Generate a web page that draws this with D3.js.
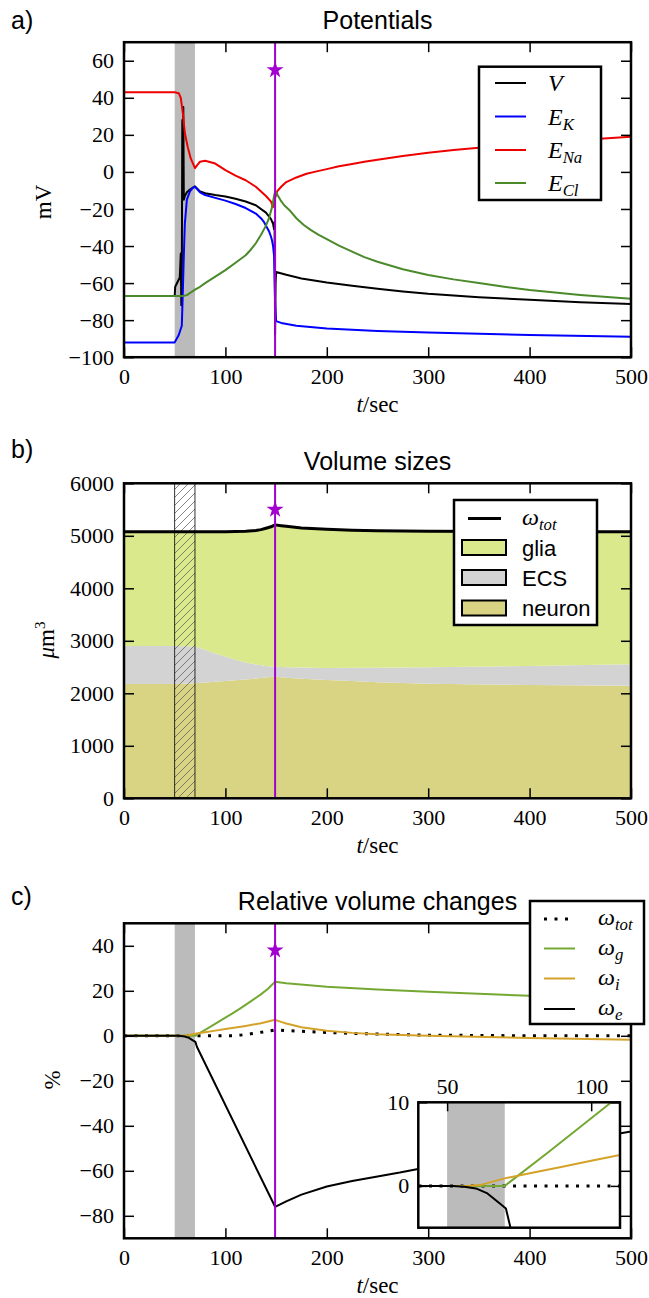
<!DOCTYPE html>
<html>
<head>
<meta charset="utf-8">
<script src="https://cdn.jsdelivr.net/npm/d3@7"></script>
<style>
  body { margin: 0; background: #fff; }
  svg { display: block; }
</style>
</head>
<body>
<script>
// ---- data ----
// a) potentials (mV)
const tV = [0, 50, 50.5, 55, 56, 56.5, 57, 57.5, 58, 58.5, 59, 60, 62, 65, 70, 75, 80, 90, 100, 110, 120, 130, 140, 145, 147, 148, 148.5, 149, 149.5, 150, 160, 175, 200, 225, 250, 275, 300, 350, 400, 450, 500];
const V = [-67, -67, -62, -57, -44, -72, -60, 28, -10, 35, -15, -13, -11, -9.5, -7.8, -10.5, -11.5, -12.5, -13.3, -14.5, -16, -18, -22, -25.5, -28, -31, -27, -88, -60, -54, -55.5, -57.5, -59.7, -61.5, -63, -64.5, -65.8, -67.6, -69, -70.3, -71.3];

const tEK = [0, 50, 54, 57, 58, 59, 60, 62, 65, 68, 70, 75, 80, 90, 100, 110, 120, 130, 135, 138, 141, 143, 145, 146, 147, 148, 149, 150, 155, 170, 200, 250, 300, 400, 500];
const EK = [-92, -92, -88, -83, -65, -45, -28, -15, -10.5, -8.5, -8, -11, -12.5, -14, -15.5, -17.3, -19.5, -22.5, -25, -27, -30, -32, -35, -37, -40, -45, -70, -80.5, -81.5, -83, -84.5, -85.8, -86.7, -88, -89];

const tENa = [0, 50, 54, 56, 58, 60, 63, 66, 70, 72, 75, 80, 90, 100, 110, 120, 130, 140, 145, 147, 149, 151, 155, 160, 170, 180, 190, 200, 212, 225, 237, 250, 275, 300, 325, 350, 375, 400, 450, 500];
const ENa = [43, 43, 42.5, 40, 32, 21, 13, 7, 2, 3.5, 5.5, 6, 4.5, 1, -2, -4.5, -8, -13, -16, -19, -14, -10.5, -8, -5.5, -3, -1, 0.3, 1.5, 3, 4.3, 5.5, 6.5, 8.6, 10.3, 11.8, 13, 14.2, 15.2, 17.2, 19];

const tECl = [0, 58, 62, 66, 70, 75, 80, 90, 100, 110, 120, 125, 130, 135, 140, 143, 146, 148, 149, 150, 152, 155, 158, 163, 170, 177, 184, 192, 200, 212, 225, 237, 250, 275, 300, 325, 350, 375, 400, 450, 500];
const ECl = [-67, -67, -66.5, -65, -63.5, -62, -60, -56.5, -53, -49, -45, -42, -38.5, -34, -29, -25, -19, -13, -10.5, -11, -13, -15.8, -18, -20.5, -25, -28.5, -31.3, -34, -36.3, -39.8, -43, -46, -48.5, -52.5, -55.6, -58, -60, -62, -63.7, -66.4, -68.5];

// b) volume sizes (um^3)
const tVol = [0, 50, 70, 80, 90, 100, 110, 120, 130, 135, 140, 145, 149, 155, 160, 175, 200, 225, 250, 300, 400, 500];
const volTotal = [5078, 5078, 5078, 5078, 5078, 5078, 5080, 5085, 5100, 5118, 5145, 5172, 5208, 5192, 5180, 5150, 5125, 5108, 5098, 5086, 5078, 5076];
const volNeuronTop = [2175, 2175, 2190, 2205, 2220, 2235, 2250, 2265, 2280, 2290, 2300, 2310, 2318, 2305, 2295, 2275, 2255, 2232, 2210, 2180, 2160, 2146];
const volEcsTop = [2900, 2900, 2890, 2830, 2760, 2700, 2640, 2585, 2550, 2535, 2520, 2512, 2505, 2500, 2495, 2490, 2483, 2485, 2488, 2495, 2520, 2552];

// c) relative volume changes (%)
const tTot = [0, 110, 115, 125, 134, 142, 149, 160, 175, 200, 225, 250, 300, 400, 500];
const wTot = [0, 0, 0.3, 0.9, 1.5, 2, 2.6, 2.3, 2, 1.5, 1.1, 0.8, 0.3, 0, 0];
const tG = [0, 70, 85, 100, 107, 114, 125, 135, 142, 149, 160, 200, 250, 300, 400, 500];
const wG = [0, 0, 4, 8.1, 10, 12, 15.3, 18.4, 20.9, 24, 23.4, 21.8, 20.6, 19.6, 17.8, 16.5];
const tI = [0, 57, 62, 70, 80, 90, 100, 110, 120, 135, 149, 155, 160, 175, 200, 225, 250, 300, 400, 500];
const wI = [0, 0, 0.15, 0.9, 1.6, 2.3, 3, 3.7, 4.4, 5.6, 7.1, 6.2, 5.5, 3.8, 2.2, 1.3, 0.7, 0, -1, -1.8];
const tE = [0, 52, 56, 60, 64, 68.3, 70.4, 72, 149, 160, 175, 200, 225, 250, 272, 290, 350, 400, 450, 500];
const wE = [0, 0, -0.1, -0.3, -0.9, -2.1, -2.7, -5, -76, -73.6, -70.6, -67, -64.5, -62.5, -60.8, -59.2, -54.3, -50.3, -46.4, -42.5];

const xTicks = [0, 100, 200, 300, 400, 500];
const stimBand = [50, 70];
const eventTime = 149;

// ---- layout ----
const W = 649, H = 1298;
const X0 = 124, X1 = 631, PH = 315;
const serif = "'Liberation Serif', 'DejaVu Serif', serif";
const sans = "'Liberation Sans', Arial, sans-serif";
const PURPLE = '#a100cf';
const GRAY = '#bbbbbb';

const svg = d3.select('body').append('svg').attr('width', W).attr('height', H);
const defs = svg.append('defs');

defs.append('pattern')
  .attr('id', 'hatch')
  .attr('patternUnits', 'userSpaceOnUse')
  .attr('width', 8)
  .attr('height', 8)
  .append('path')
  .attr('d', 'M-2,2 l4,-4 M0,8 l8,-8 M6,10 l4,-4')
  .attr('stroke', '#555')
  .attr('stroke-width', 0.7);

const zip = (ts, vs) => ts.map((t, i) => [t, vs[i]]);

function makePanel(id, top, yDomain, yTicks) {
  const x = d3.scaleLinear().domain([0, 500]).range([X0, X1]);
  const y = d3.scaleLinear().domain(yDomain).range([top + PH, top]);
  defs.append('clipPath').attr('id', `clip-${id}`)
    .append('rect')
    .attr('x', X0).attr('y', top).attr('width', X1 - X0).attr('height', PH);
  const g = svg.append('g');
  const plot = g.append('g').attr('clip-path', `url(#clip-${id})`);
  return { x, y, g, plot, top, yTicks };
}

function drawLine(p, ts, vs, color, opts = {}) {
  const line = d3.line()
    .x((d) => p.x(d[0]))
    .y((d) => p.y(d[1]));
  return p.plot.append('path')
    .datum(zip(ts, vs))
    .attr('d', line)
    .attr('fill', 'none')
    .attr('stroke', color)
    .attr('stroke-width', opts.width || 2)
    .attr('stroke-dasharray', opts.dash || null)
    .attr('stroke-linejoin', 'round');
}

function band(p, fill) {
  return p.plot.append('rect')
    .attr('x', p.x(stimBand[0]))
    .attr('width', p.x(stimBand[1]) - p.x(stimBand[0]))
    .attr('y', p.top)
    .attr('height', PH)
    .attr('fill', fill);
}

function eventMarker(p, starValue) {
  p.plot.append('line')
    .attr('x1', p.x(eventTime)).attr('x2', p.x(eventTime))
    .attr('y1', p.top).attr('y2', p.top + PH)
    .attr('stroke', PURPLE)
    .attr('stroke-width', 2);
  p.g.append('path')
    .attr('d', d3.symbol(d3.symbolStar, 90)())
    .attr('transform', `translate(${p.x(eventTime)},${p.y(starValue)})`)
    .attr('fill', PURPLE);
}

function styleAxis(sel) {
  sel.select('.domain').remove();
  sel.selectAll('.tick line').attr('stroke', '#000').attr('stroke-width', 1.5);
  sel.selectAll('.tick text')
    .attr('font-family', serif)
    .attr('font-size', 22)
    .attr('fill', '#000');
}

function finishPanel(p, yLabel, title, tag) {
  const fmt = d3.format('d');
  p.g.append('g').attr('transform', `translate(0,${p.top + PH})`)
    .call(d3.axisBottom(p.x).tickValues(xTicks).tickSize(-10).tickPadding(11).tickFormat(fmt))
    .call(styleAxis);
  p.g.append('g').attr('transform', `translate(0,${p.top})`)
    .call(d3.axisTop(p.x).tickValues(xTicks).tickSize(-10).tickFormat(''))
    .call(styleAxis);
  p.g.append('g').attr('transform', `translate(${X0},0)`)
    .call(d3.axisLeft(p.y).tickValues(p.yTicks).tickSize(-10).tickPadding(10).tickFormat(fmt))
    .call(styleAxis);
  p.g.append('g').attr('transform', `translate(${X1},0)`)
    .call(d3.axisRight(p.y).tickValues(p.yTicks).tickSize(-10).tickFormat(''))
    .call(styleAxis);

  p.g.append('rect')
    .attr('x', X0).attr('y', p.top)
    .attr('width', X1 - X0).attr('height', PH)
    .attr('fill', 'none')
    .attr('stroke', '#000')
    .attr('stroke-width', 2.5);

  // x label: t/sec
  const xl = p.g.append('text')
    .attr('x', (X0 + X1) / 2)
    .attr('y', p.top + PH + 55)
    .attr('text-anchor', 'middle')
    .attr('font-family', serif)
    .attr('font-size', 23);
  xl.append('tspan').attr('font-style', 'italic').text('t');
  xl.append('tspan').text('/sec');

  // y label
  p.g.append('g')
    .attr('transform', `translate(${yLabel.x},${yLabel.y}) rotate(-90)`)
    .call(yLabel.draw);

  p.g.append('text')
    .attr('x', (X0 + X1) / 2)
    .attr('y', p.top - 13)
    .attr('text-anchor', 'middle')
    .attr('font-family', sans)
    .attr('font-size', 25)
    .text(title);

  p.g.append('text')
    .attr('x', 11)
    .attr('y', tag.y)
    .attr('font-family', sans)
    .attr('font-size', 25)
    .text(tag.text);
}

function legendBox(x, y, w, h) {
  return svg.append('rect')
    .attr('x', x).attr('y', y).attr('width', w).attr('height', h)
    .attr('fill', '#fff')
    .attr('stroke', '#000')
    .attr('stroke-width', 2.5);
}

function subText(parent, x, y, main, sub, size) {
  const t = parent.append('text')
    .attr('x', x).attr('y', y)
    .attr('font-family', serif)
    .attr('font-style', 'italic')
    .attr('font-size', size);
  t.append('tspan').text(main);
  if (sub) t.append('tspan').attr('font-size', size * 0.7).attr('dy', size * 0.22).text(sub);
  return t;
}

// ================= a) Potentials =================
const pa = makePanel('a', 42.2, [-100, 70], [-100, -80, -60, -40, -20, 0, 20, 40, 60]);
band(pa, GRAY);
drawLine(pa, tV, V, '#000');
drawLine(pa, tEK, EK, '#0000ff');
drawLine(pa, tENa, ENa, '#ee0000');
drawLine(pa, tECl, ECl, '#4a8a2a');
eventMarker(pa, 55);
finishPanel(pa, {
  x: 43, y: 202,
  draw: (g) => g.append('text').attr('text-anchor', 'middle').attr('dy', '0.35em')
    .attr('font-family', serif).attr('font-size', 23).text('mV'),
}, 'Potentials', { text: 'a)', y: 29 });

legendBox(479, 66.7, 122, 133.3);
[
  { main: 'V', sub: null, color: '#000', y: 83 },
  { main: 'E', sub: 'K', color: '#0000ff', y: 116.5 },
  { main: 'E', sub: 'Na', color: '#ee0000', y: 150 },
  { main: 'E', sub: 'Cl', color: '#4a8a2a', y: 183 },
].forEach((d) => {
  svg.append('line').attr('x1', 495).attr('x2', 526).attr('y1', d.y).attr('y2', d.y)
    .attr('stroke', d.color).attr('stroke-width', 2);
  subText(svg, 548, d.y + 8, d.main, d.sub, 24);
});

// ================= b) Volume sizes =================
const pb = makePanel('b', 483.3, [0, 6000], [0, 1000, 2000, 3000, 4000, 5000, 6000]);
const volRows = tVol.map((t, i) => ({ t, total: volTotal[i], ecs: volEcsTop[i], neuron: volNeuronTop[i] }));
const area = (lo, hi) => d3.area()
  .x((d) => pb.x(d.t))
  .y0((d) => pb.y(lo(d)))
  .y1((d) => pb.y(hi(d)));
const GLIA = '#d9e98b', ECS = '#d3d3d3', NEURON = '#d8d484';
pb.plot.append('path').datum(volRows).attr('d', area(() => 0, (d) => d.neuron)).attr('fill', NEURON);
pb.plot.append('path').datum(volRows).attr('d', area((d) => d.neuron, (d) => d.ecs)).attr('fill', ECS);
pb.plot.append('path').datum(volRows).attr('d', area((d) => d.ecs, (d) => d.total)).attr('fill', GLIA);
pb.plot.append('rect')
  .attr('x', pb.x(stimBand[0]))
  .attr('width', pb.x(stimBand[1]) - pb.x(stimBand[0]))
  .attr('y', pb.top).attr('height', PH)
  .attr('fill', 'url(#hatch)')
  .attr('stroke', '#000')
  .attr('stroke-width', 0.8);
drawLine(pb, tVol, volTotal, '#000', { width: 3 });
eventMarker(pb, 5500);
finishPanel(pb, {
  x: 46, y: 640,
  draw: (g) => {
    const t = g.append('text').attr('text-anchor', 'middle').attr('dy', '0.35em')
      .attr('font-family', serif).attr('font-size', 23);
    t.append('tspan').attr('font-style', 'italic').text('μ');
    t.append('tspan').text('m');
    t.append('tspan').attr('font-size', 15).attr('dy', -9).text('3');
  },
}, 'Volume sizes', { text: 'b)', y: 458 });

legendBox(454, 500, 143, 125);
svg.append('line').attr('x1', 468).attr('x2', 501).attr('y1', 518.5).attr('y2', 518.5)
  .attr('stroke', '#000').attr('stroke-width', 3);
subText(svg, 522, 525, 'ω', 'tot', 24);
[
  { label: 'glia', fill: GLIA, y: 547.5 },
  { label: 'ECS', fill: ECS, y: 577.5 },
  { label: 'neuron', fill: NEURON, y: 608 },
].forEach((d) => {
  svg.append('rect').attr('x', 462).attr('y', d.y - 7.5).attr('width', 44).attr('height', 15)
    .attr('fill', d.fill).attr('stroke', '#000').attr('stroke-width', 2);
  svg.append('text').attr('x', 522).attr('y', d.y + 8)
    .attr('font-family', sans).attr('font-size', 22).text(d.label);
});

// ================= c) Relative volume changes =================
const pc = makePanel('c', 923.3, [-90, 50], [-80, -60, -40, -20, 0, 20, 40]);
band(pc, GRAY);
const DOT = '3 7.5';
const GREEN_C = '#74a833', GOLD = '#d4a228';
drawLine(pc, tTot, wTot, '#000', { width: 3, dash: DOT });
drawLine(pc, tG, wG, GREEN_C);
drawLine(pc, tI, wI, GOLD);
drawLine(pc, tE, wE, '#000');
eventMarker(pc, 38);
finishPanel(pc, {
  x: 52, y: 1080,
  draw: (g) => g.append('text').attr('text-anchor', 'middle').attr('dy', '0.35em')
    .attr('font-family', serif).attr('font-size', 23).text('%'),
}, 'Relative volume changes', { text: 'c)', y: 905 });

// inset
const inset = {
  x: d3.scaleLinear().domain([40, 110]).range([418.3, 620]),
  y: d3.scaleLinear().domain([-5, 10]).range([1227.7, 1102.3]),
};
const ig = svg.append('g');
ig.append('rect')
  .attr('x', 418.3).attr('y', 1102.3).attr('width', 620 - 418.3).attr('height', 1227.7 - 1102.3)
  .attr('fill', '#fff');
defs.append('clipPath').attr('id', 'clip-inset')
  .append('rect')
  .attr('x', 418.3).attr('y', 1102.3).attr('width', 620 - 418.3).attr('height', 1227.7 - 1102.3);
const iplot = ig.append('g').attr('clip-path', 'url(#clip-inset)');
const ip = { x: inset.x, y: inset.y, plot: iplot };
iplot.append('rect')
  .attr('x', inset.x(stimBand[0]))
  .attr('width', inset.x(stimBand[1]) - inset.x(stimBand[0]))
  .attr('y', 1102.3).attr('height', 1227.7 - 1102.3)
  .attr('fill', GRAY);
drawLine(ip, tTot, wTot, '#000', { width: 3, dash: DOT });
drawLine(ip, tG, wG, GREEN_C);
drawLine(ip, tI, wI, GOLD);
drawLine(ip, tE, wE, '#000');
ig.append('g').attr('transform', 'translate(0,1102.3)')
  .call(d3.axisTop(inset.x).tickValues([50, 100]).tickSize(-9).tickPadding(8).tickFormat(d3.format('d')))
  .call(styleAxis);
ig.append('g').attr('transform', 'translate(418.3,0)')
  .call(d3.axisLeft(inset.y).tickValues([0, 10]).tickSize(-9).tickPadding(9).tickFormat(d3.format('d')))
  .call(styleAxis);
ig.append('g').attr('transform', 'translate(620,0)')
  .call(d3.axisRight(inset.y).tickValues([0, 10]).tickSize(-9).tickFormat(''))
  .call(styleAxis);
ig.append('rect')
  .attr('x', 418.3).attr('y', 1102.3).attr('width', 620 - 418.3).attr('height', 1227.7 - 1102.3)
  .attr('fill', 'none').attr('stroke', '#000').attr('stroke-width', 2.5);

// legend c
legendBox(530, 901, 114, 123);
[
  { sub: 'tot', color: '#000', y: 919, dash: DOT, w: 3 },
  { sub: 'g', color: GREEN_C, y: 948.5, dash: null, w: 2 },
  { sub: 'i', color: GOLD, y: 978.5, dash: null, w: 2 },
  { sub: 'e', color: '#000', y: 1009, dash: null, w: 2 },
].forEach((d) => {
  svg.append('line').attr('x1', 544).attr('x2', 575).attr('y1', d.y).attr('y2', d.y)
    .attr('stroke', d.color).attr('stroke-width', d.w).attr('stroke-dasharray', d.dash);
  subText(svg, 598, d.y + 6, 'ω', d.sub, 24);
});
</script>
</body>
</html>
